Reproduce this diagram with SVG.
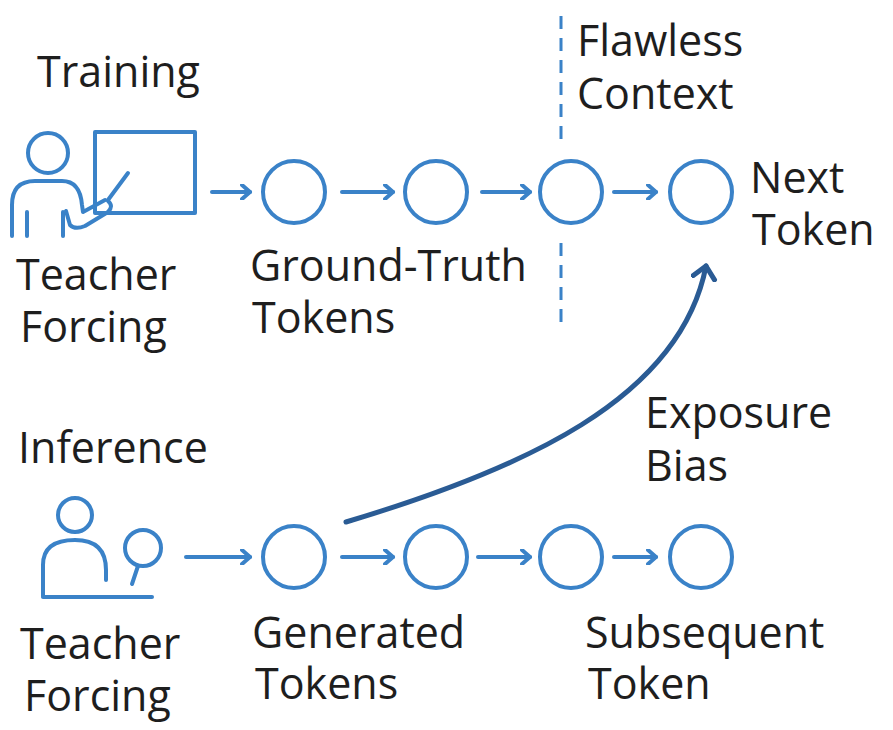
<svg xmlns="http://www.w3.org/2000/svg" width="893" height="730" viewBox="0 0 893 730">
<style>
.s{fill:none;stroke:#3a82c8;stroke-width:4;stroke-linecap:round;stroke-linejoin:round}
.t{font-family:"Open Sans","Liberation Sans",sans-serif;font-size:43px;fill:#1e1e1e}
</style>
<defs>
<marker id="a" markerWidth="14" markerHeight="16" refX="10" refY="8" orient="auto" markerUnits="userSpaceOnUse"><path d="M2,1 L10,8 L2,15" fill="none" stroke="#3a82c8" stroke-width="4" stroke-linecap="round" stroke-linejoin="round"/></marker>
<marker id="b" markerWidth="30" markerHeight="30" refX="14" refY="13" orient="auto" markerUnits="userSpaceOnUse"><path d="M2,2 L14,13 L2,24" fill="none" stroke="#2a5b94" stroke-width="5" stroke-linecap="round" stroke-linejoin="round"/></marker>
</defs>
<rect width="893" height="730" fill="#fff"/>
<g id="teacher-icon">
<circle class="s" cx="48" cy="153" r="20"/>
<path class="s" d="M12,236 V205 Q12,181 35,181 H62 Q80,181 82,205 L83,212 L105,200"/>
<path class="s" d="M66,211 L70,225 Q75,230 85,226 L108,212 Q114,206 108,201"/>
<line class="s" x1="27" y1="212" x2="27" y2="236"/>
<line class="s" x1="63" y1="212" x2="63" y2="236"/>
<line class="s" x1="108" y1="200" x2="128" y2="173"/>
<rect class="s" x="95" y="132" width="100" height="81"/>
</g>
<g id="inference-icon">
<circle class="s" cx="75" cy="515" r="17"/>
<path class="s" d="M43,596 V565 Q43,540 75,540 Q106,540 106,570 V580"/>
<line class="s" x1="43" y1="597" x2="152" y2="597"/>
<circle class="s" cx="143" cy="548" r="18"/>
<line class="s" x1="138" y1="566" x2="132" y2="584"/>
</g>
<g id="top-nodes">
<circle id="t1" class="s" cx="294" cy="192" r="31"/>
<circle id="t2" class="s" cx="436" cy="192" r="31"/>
<circle id="t3" class="s" cx="571" cy="192" r="31"/>
<circle id="t4" class="s" cx="701" cy="192" r="31"/>
</g>
<g id="bottom-nodes">
<circle id="b1" class="s" cx="294" cy="557" r="31"/>
<circle id="b2" class="s" cx="436" cy="557" r="31"/>
<circle id="b3" class="s" cx="571" cy="557" r="31"/>
<circle id="b4" class="s" cx="701" cy="557" r="31"/>
</g>
<g id="connectors">
<line class="s" x1="212" y1="192" x2="250" y2="192" marker-end="url(#a)"/>
<line class="s" x1="342" y1="192" x2="393" y2="192" marker-end="url(#a)"/>
<line class="s" x1="482" y1="192" x2="530" y2="192" marker-end="url(#a)"/>
<line class="s" x1="614" y1="192" x2="656" y2="192" marker-end="url(#a)"/>
<line class="s" x1="186" y1="557" x2="250" y2="557" marker-end="url(#a)"/>
<line class="s" x1="342" y1="557" x2="393" y2="557" marker-end="url(#a)"/>
<line class="s" x1="478" y1="557" x2="530" y2="557" marker-end="url(#a)"/>
<line class="s" x1="614" y1="557" x2="656" y2="557" marker-end="url(#a)"/>
<path d="M346,522 C520,470 680,400 706,266" fill="none" stroke="#2a5b94" stroke-width="5" stroke-linecap="round" marker-end="url(#b)"/>
<line x1="561" y1="16" x2="561" y2="145" stroke="#3a82c8" stroke-width="3" stroke-dasharray="13,9"/>
<line x1="561" y1="243" x2="561" y2="330" stroke="#3a82c8" stroke-width="3" stroke-dasharray="13,9"/>
</g>
<g id="labels">
<text class="t" x="37" y="87">Training</text>
<text class="t" x="16" y="290">Teacher</text>
<text class="t" x="20" y="342">Forcing</text>
<text class="t" x="250" y="281">Ground-Truth</text>
<text class="t" x="252" y="333">Tokens</text>
<text class="t" x="577" y="56">Flawless</text>
<text class="t" x="577" y="109">Context</text>
<text class="t" x="750" y="193">Next</text>
<text class="t" x="752" y="245">Token</text>
<text class="t" x="645" y="428">Exposure</text>
<text class="t" x="645" y="481">Bias</text>
<text class="t" x="18" y="463">Inference</text>
<text class="t" x="20" y="659">Teacher</text>
<text class="t" x="24" y="711">Forcing</text>
<text class="t" x="252" y="648">Generated</text>
<text class="t" x="255" y="699">Tokens</text>
<text class="t" x="585" y="648">Subsequent</text>
<text class="t" x="588" y="699">Token</text>
</g>
</svg>
